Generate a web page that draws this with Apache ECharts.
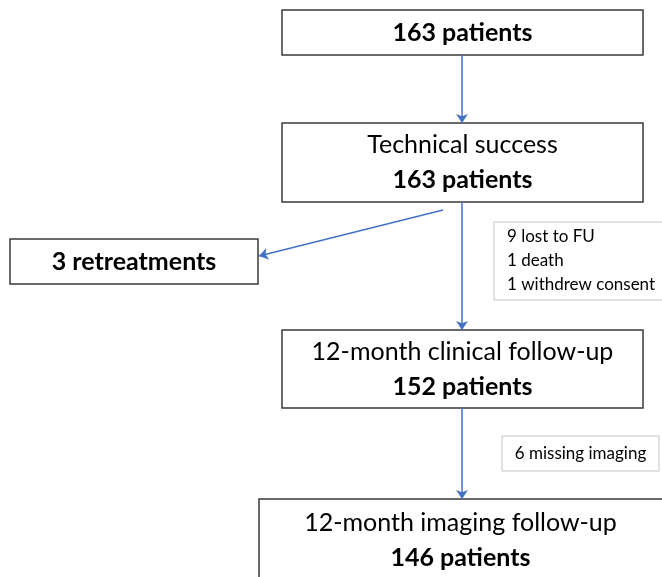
<!DOCTYPE html>
<html>
<head>
    <meta charset="utf-8">
    <title>Patient flow</title>
    <script src="https://cdn.jsdelivr.net/npm/echarts@6/dist/echarts.min.js"></script>
    <style>
        html, body { margin: 0; padding: 0; background: #fff; }
        #main { width: 662px; height: 577px; }
    </style>
</head>
<body>
    <div id="main"></div>
    <script type="text/javascript">
        // data
        var stageTitles = ['', 'Technical success', '12-month clinical follow-up', '12-month imaging follow-up'];
        var stageCounts = [163, 163, 152, 146];
        var retreatCount = 3;
        var lossNotes = ['9 lost to FU', '1 death', '1 withdrew consent'];
        var imagingNotes = ['6 missing imaging'];

        // layout (x0, y0, x1, y1) in page pixels
        var stageBoxes = [[282, 10, 643, 55], [282, 123, 643, 202], [282, 330, 643, 408], [259, 499, 720, 581]];
        var retreatBox = [10, 239, 258, 284];
        var lossBox = [494, 222, 700, 300];
        var imagingBox = [502, 436, 659, 471];
        var arrows = [
            [[462, 55], [462, 123]],
            [[462, 202], [462, 330]],
            [[443, 210], [259, 256]],
            [[462, 408], [462, 499]]
        ];

        var FONT = 'Lato';
        var boxes = [];
        stageTitles.forEach(function (t, i) {
            var txt = (t ? '{t|' + t + '}\n' : '') + '{b|' + stageCounts[i] + ' patients}';
            boxes.push({ value: stageBoxes[i], text: txt, kind: 'stage' });
        });
        boxes.push({ value: retreatBox, text: '{b|' + retreatCount + ' retreatments}', kind: 'stage' });
        boxes.push({ value: lossBox, text: lossNotes.map(function (s) { return '{n|' + s + '}'; }).join('\n'), kind: 'note', align: 'left' });
        boxes.push({ value: imagingBox, text: imagingNotes.map(function (s) { return '{n|' + s + '}'; }).join('\n'), kind: 'note' });

        var rich = {
            t: { fontFamily: FONT, fontSize: 25, color: '#111', lineHeight: 35 },
            b: { fontFamily: FONT, fontSize: 25, fontWeight: 'bold', color: '#111', lineHeight: 35 },
            n: { fontFamily: FONT, fontSize: 17, color: '#222', lineHeight: 24 }
        };

        var myChart = echarts.init(document.getElementById('main'));
        var option = {
            animation: false,
            grid: { left: 0, right: 0, top: 0, bottom: 0 },
            xAxis: { type: 'value', min: 0, max: 662, show: false },
            yAxis: { type: 'value', min: 0, max: 577, inverse: true, show: false },
            series: [{
                type: 'custom',
                clip: false,
                data: boxes.map(function (b) { return b.value; }),
                renderItem: function (params, api) {
                    var b = boxes[params.dataIndex];
                    var p0 = api.coord([api.value(0), api.value(1)]);
                    var p1 = api.coord([api.value(2), api.value(3)]);
                    var note = b.kind === 'note';
                    var left = b.align === 'left';
                    return {
                        type: 'group',
                        children: [{
                            type: 'rect',
                            shape: { x: p0[0], y: p0[1], width: p1[0] - p0[0], height: p1[1] - p0[1] },
                            style: { fill: '#fff', stroke: note ? '#c4c4c4' : '#3a3a3a', lineWidth: note ? 1 : 1.5 }
                        }, {
                            type: 'text',
                            x: left ? p0[0] + 13 : (p0[0] + Math.min(p1[0], 662) + (b.value[2] > 662 ? 0 : 0)) / 2,
                            y: (p0[1] + p1[1]) / 2,
                            style: {
                                text: b.text,
                                rich: rich,
                                align: left ? 'left' : 'center',
                                verticalAlign: 'middle'
                            }
                        }]
                    };
                }
            }, {
                type: 'lines',
                coordinateSystem: 'cartesian2d',
                symbol: ['none', 'arrow'],
                symbolSize: 9,
                lineStyle: { color: '#4472C4', width: 1.5, opacity: 1 },
                data: arrows.map(function (a) { return { coords: a }; })
            }]
        };
        myChart.setOption(option);
    </script>
</body>
</html>
